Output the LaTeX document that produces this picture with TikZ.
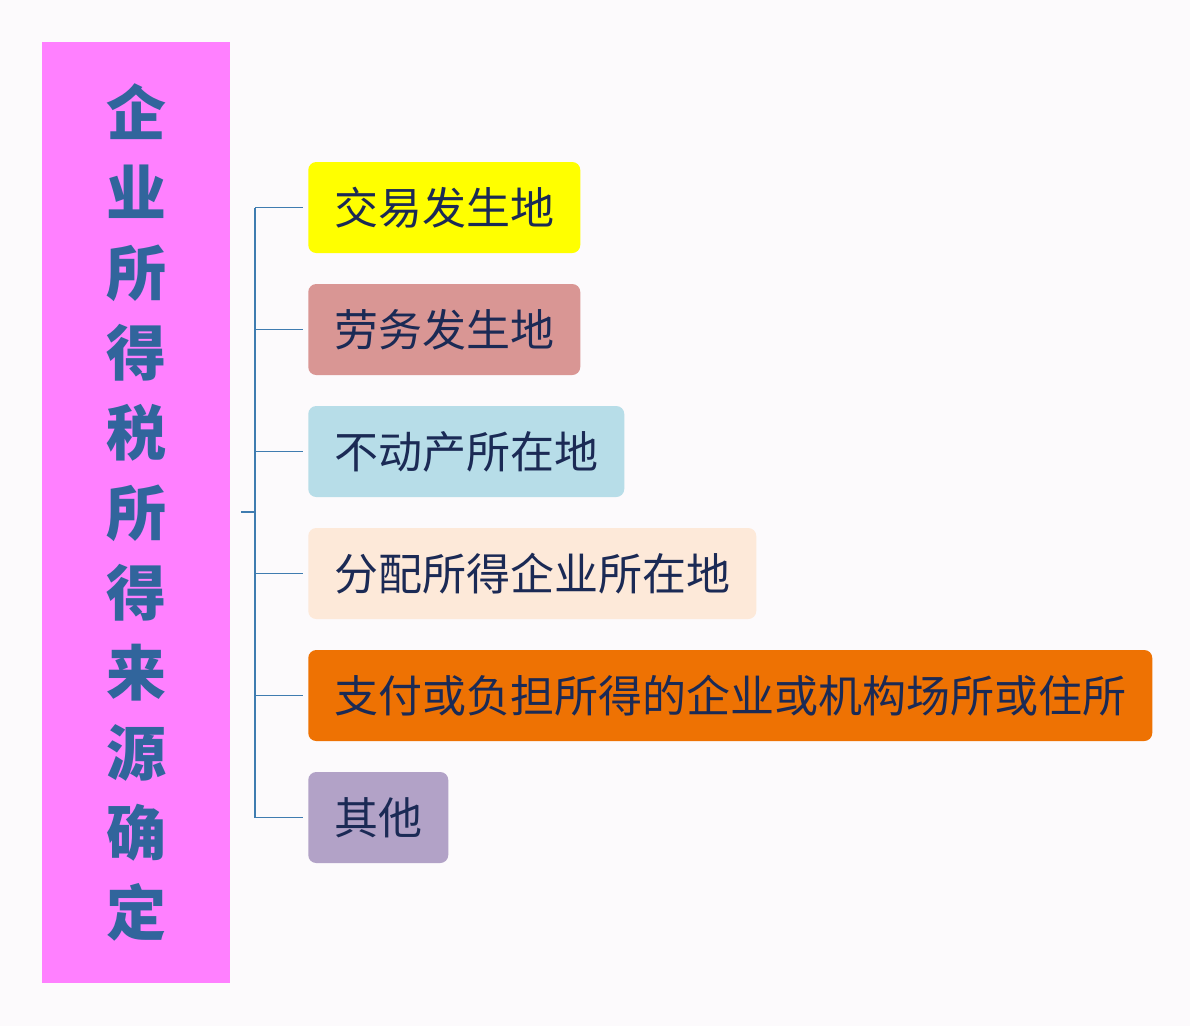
\documentclass[tikz,border=0pt]{standalone}
\usepackage{fontspec}
\setmainfont{Noto Sans CJK SC}
\newfontfamily\cjk{Noto Sans CJK SC}
\usetikzlibrary{positioning}
\definecolor{pagebg}{HTML}{FCFAFC}
\definecolor{titlepink}{HTML}{FF80FF}
\definecolor{titleblue}{HTML}{31659C}
\definecolor{itemtext}{HTML}{1B2A55}
\definecolor{linkblue}{HTML}{3F7CB0}
\definecolor{cyellow}{HTML}{FFFF00}
\definecolor{crose}{HTML}{D99694}
\definecolor{cblue}{HTML}{B7DDE8}
\definecolor{cpeach}{HTML}{FDE9D9}
\definecolor{corange}{HTML}{EE7203}
\definecolor{cviolet}{HTML}{B2A2C7}
\tikzset{
  titlebox/.style={fill=titlepink,minimum width=141pt,minimum height=705.75pt,inner sep=0pt,
    text=titleblue,align=center,font=\cjk\bfseries\fontsize{45}{60}\selectfont},
  itembox/.style={anchor=west,rounded corners=6pt,minimum height=68.25pt,inner xsep=19.5pt,
    text=itemtext,font=\cjk\fontsize{33}{36}\selectfont},
  link/.style={draw=linkblue,line width=0.8pt}
}
\begin{document}
\begin{tikzpicture}[x=0.75pt,y=-0.75pt]
  \useasboundingbox (0,0) rectangle (1190,1026);
  \fill[pagebg] (0,0) rectangle (1190,1026);
  % title column
  \node[titlebox] (title) at (136,512.5) {企\\业\\所\\得\\税\\所\\得\\来\\源\\确\\定};
  % items
  \node[itembox,fill=cyellow] (b1) at (308,207.5) {交易发生地};
  \node[itembox,fill=crose] (b2) at (308,329.5) {劳务发生地};
  \node[itembox,fill=cblue] (b3) at (308,451.5) {不动产所在地};
  \node[itembox,fill=cpeach] (b4) at (308,573.5) {分配所得企业所在地};
  \node[itembox,fill=corange] (b5) at (308,695.5) {支付或负担所得的企业或机构场所或住所};
  \node[itembox,fill=cviolet] (b6) at (308,817.5) {其他};
  % bracket
  \coordinate (spine) at (255,512);
  \draw[link] (spine) -- ++(-14,0);
  \draw[link] (spine |- b1.west) -- (spine |- b6.west);
  \foreach \b in {b1,b2,b3,b4,b5,b6}
    \draw[link] (spine |- \b.west) -- ([xshift=-3.75pt]\b.west);
\end{tikzpicture}
\end{document}
